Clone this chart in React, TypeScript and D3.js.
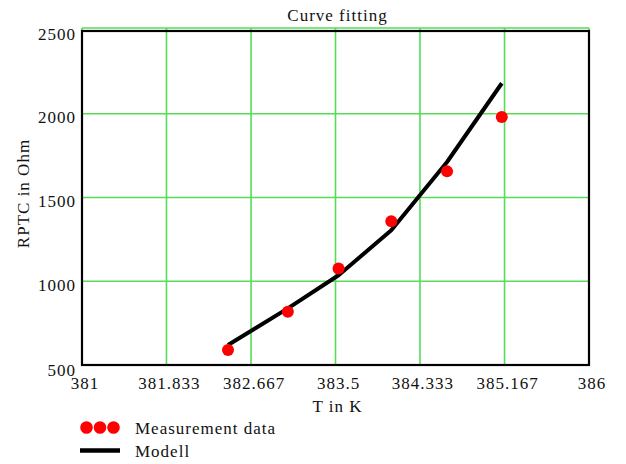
import React from "react";
import * as d3 from "d3";

const xTicks = [381, 381.833, 382.667, 383.5, 384.333, 385.167, 386];
const xTickLabels = ["381", "381.833", "382.667", "383.5", "384.333", "385.167", "386"];
const yTicks = [500, 1000, 1500, 2000, 2500];
const yTickLabels = ["500", "1000", "1500", "2000", "2500"];

const measT = [382.44, 383.03, 383.53, 384.05, 384.6, 385.14];
const measR = [589, 818, 1076, 1358, 1656, 1980];
const modelT = [382.44, 383.03, 383.53, 384.05, 384.6, 385.14];
const modelR = [619, 838, 1036, 1304, 1712, 2182];

const W = 626;
const H = 464;
const left = 82;
const right = 589;
const top = 30;
const bottom = 365;

const GREEN = "#55dd55";
const FONT = "Liberation Serif, Times New Roman, DejaVu Serif, serif";

export default function App() {
  const x = d3.scaleLinear().domain([381, 386]).range([left, right]);
  const y = d3.scaleLinear().domain([500, 2500]).range([bottom, top]);

  const line = d3
    .line<number>()
    .x((_, i) => x(modelT[i]))
    .y((d) => y(d));

  const tp = {
    fontFamily: FONT,
    fontSize: 17,
    letterSpacing: 1,
    fill: "#111",
  };

  return (
    <svg
      width={W}
      height={H}
      style={{ position: "absolute", left: 0, top: 0, background: "#fff" }}
    >
      {xTicks.map((t, i) => (
        <line
          key={"gx" + i}
          x1={x(t)}
          x2={x(t)}
          y1={top - 2}
          y2={bottom}
          stroke={GREEN}
          strokeWidth={1.6}
        />
      ))}
      {yTicks.map((t, i) => (
        <line
          key={"gy" + i}
          x1={left}
          x2={right}
          y1={y(t) - (t === 2500 ? 2 : 0)}
          y2={y(t) - (t === 2500 ? 2 : 0)}
          stroke={GREEN}
          strokeWidth={1.6}
        />
      ))}
      <rect
        x={left}
        y={top + 1}
        width={right - left}
        height={bottom - top - 1}
        fill="none"
        stroke="#000"
        strokeWidth={2.2}
      />
      <path d={line(modelR) || ""} fill="none" stroke="#000" strokeWidth={4} strokeLinejoin="round" />
      {measR.map((r, i) => (
        <circle key={"p" + i} cx={x(measT[i])} cy={y(r)} r={6} fill="#ff0000" />
      ))}
      {yTicks.map((t, i) => (
        <text
          key={"yl" + i}
          x={left - 6}
          y={y(t) + (t === 500 ? 11 : 9.5)}
          textAnchor="end"
          {...tp}
        >
          {yTickLabels[i]}
        </text>
      ))}
      {xTicks.map((t, i) => (
        <text
          key={"xl" + i}
          x={x(t) + 3}
          y={bottom + 24}
          textAnchor="middle"
          {...tp}
        >
          {xTickLabels[i]}
        </text>
      ))}
      <text x={(left + right) / 2 + 2} y={21} textAnchor="middle" {...tp}>
        Curve fitting
      </text>
      <text x={(left + right) / 2 + 2} y={412} textAnchor="middle" {...tp}>
        T in K
      </text>
      <text
        transform={`translate(29, ${(top + bottom) / 2 - 4}) rotate(-90)`}
        textAnchor="middle"
        {...tp}
      >
        RPTC in Ohm
      </text>
      {[86.5, 100, 113.5].map((cx, i) => (
        <circle key={"lg" + i} cx={cx} cy={427.5} r={6.3} fill="#ff0000" />
      ))}
      <text x={135} y={434} {...tp}>
        Measurement data
      </text>
      <line x1={80} x2={120} y1={450.5} y2={450.5} stroke="#000" strokeWidth={4.5} />
      <text x={135} y={457} {...tp}>
        Modell
      </text>
    </svg>
  );
}
